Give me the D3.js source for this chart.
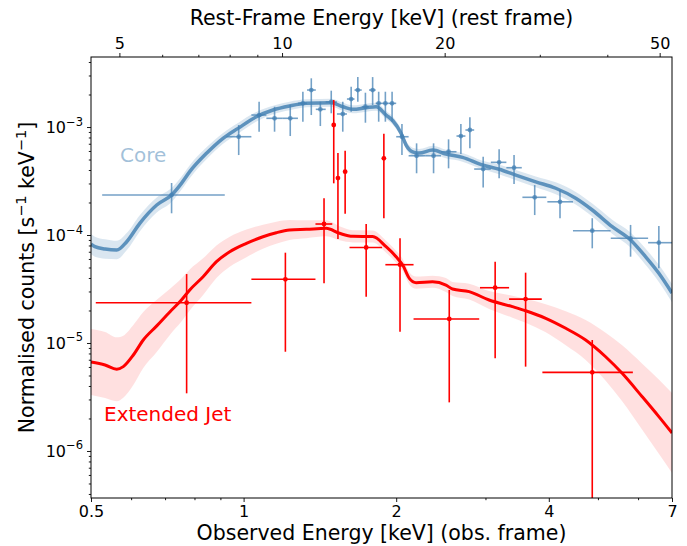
<!DOCTYPE html>
<html>
<head>
<meta charset="utf-8">
<script src="https://cdn.jsdelivr.net/npm/d3@7"></script>
<style>
    body { margin: 0; background: #fff; }
    svg { display: block; }
    text { font-family: "DejaVu Sans", sans-serif; fill: #000; }
    .frame { fill: none; stroke: #000; stroke-width: 1; }
    .axis path { display: none; }
    .axis line { stroke: #000; stroke-width: 0.9; }
    .axis text { font-size: 16px; }
</style>
</head>
<body>
<svg width="687" height="546"></svg>
<script>
// ---- core (point source) spectrum, obs-frame keV, counts s^-1 keV^-1
var coreE   = [0.721, 0.978, 1.073, 1.151, 1.236, 1.309, 1.360, 1.417, 1.489, 1.569, 1.630, 1.680, 1.739, 1.797, 1.847, 1.904, 1.963, 2.053, 2.194, 2.370, 2.537, 2.683, 2.795, 2.969, 3.192, 3.416, 3.752, 4.209, 4.873, 5.799, 6.594];
var coreElo = [0.526, 0.925, 1.036, 1.109, 1.195, 1.280, 1.334, 1.388, 1.452, 1.528, 1.599, 1.655, 1.710, 1.768, 1.822, 1.876, 1.933, 2.000, 2.116, 2.282, 2.451, 2.630, 2.739, 2.850, 3.074, 3.299, 3.548, 3.974, 4.464, 5.300, 6.280];
var coreEhi = [0.918, 1.036, 1.109, 1.195, 1.280, 1.334, 1.388, 1.452, 1.528, 1.599, 1.655, 1.710, 1.768, 1.822, 1.876, 1.933, 2.000, 2.116, 2.282, 2.451, 2.630, 2.739, 2.850, 3.074, 3.299, 3.538, 3.955, 4.464, 5.296, 6.280, 7.100];
var coreV   = [2.346e-4, 8.13e-4, 1.291e-3, 1.204e-3, 1.204e-3, 1.657e-3, 2.20e-3, 1.458e-3, 1.705e-3, 1.32e-3, 1.816e-3, 2.20e-3, 1.541e-3, 2.20e-3, 1.657e-3, 1.657e-3, 1.657e-3, 8.13e-4, 5.42e-4, 5.42e-4, 5.90e-4, 8.25e-4, 9.38e-4, 4.08e-4, 4.71e-4, 4.20e-4, 2.234e-4, 2.03e-4, 1.096e-4, 9.32e-5, 8.49e-5];
var coreVlo = [1.589e-4, 5.50e-4, 9.05e-4, 9.05e-4, 8.25e-4, 1.12e-3, 1.291e-3, 1.021e-3, 1.34e-3, 9.05e-4, 1.386e-3, 1.714e-3, 1.096e-3, 1.598e-3, 1.12e-3, 1.12e-3, 1.12e-3, 5.50e-4, 3.73e-4, 3.73e-4, 4.145e-4, 5.62e-4, 6.35e-4, 2.76e-4, 3.35e-4, 2.97e-4, 1.53e-4, 1.43e-4, 7.53e-5, 6.30e-5, 4.92e-5];
var coreVhi = [3.03e-4, 1.044e-3, 1.714e-3, 1.541e-3, 1.598e-3, 2.122e-3, 2.825e-3, 1.714e-3, 2.17e-3, 1.714e-3, 2.36e-3, 2.90e-3, 2.078e-3, 2.90e-3, 2.122e-3, 2.122e-3, 2.122e-3, 1.066e-3, 7.06e-4, 7.06e-4, 7.69e-4, 1.066e-3, 1.23e-3, 5.31e-4, 6.22e-4, 5.50e-4, 2.90e-4, 2.61e-4, 1.43e-4, 1.24e-4, 1.212e-4];

// ---- core folded model and its uncertainty (dex)
var coreModelE = [0.5, 0.509, 0.533, 0.562, 0.588, 0.624, 0.674, 0.721, 0.754, 0.783, 0.845, 0.911, 0.975, 1.060, 1.143, 1.232, 1.330, 1.489, 1.569, 1.642, 1.745, 1.826, 1.910, 1.968, 2.045, 2.092, 2.155, 2.221, 2.359, 2.507, 2.703, 2.959, 3.192, 3.443, 3.770, 4.128, 4.520, 4.873, 5.335, 5.799, 6.206, 6.594, 7.0];
var coreModelV = [8.25e-5, 7.79e-5, 7.42e-5, 7.26e-5, 8.67e-5, 1.283e-4, 1.896e-4, 2.346e-4, 3.01e-4, 3.86e-4, 5.71e-4, 7.86e-4, 9.72e-4, 1.245e-3, 1.437e-3, 1.565e-3, 1.657e-3, 1.679e-3, 1.541e-3, 1.458e-3, 1.509e-3, 1.541e-3, 1.291e-3, 1.149e-3, 8.74e-4, 6.81e-4, 5.90e-4, 5.74e-4, 6.12e-4, 5.62e-4, 5.24e-4, 4.45e-4, 4.06e-4, 3.59e-4, 3.11e-4, 2.71e-4, 2.19e-4, 1.704e-4, 1.194e-4, 8.99e-5, 6.30e-5, 4.42e-5, 2.90e-5];
var coreModelErr = [0.093, 0.093, 0.09, 0.085, 0.08, 0.075, 0.07, 0.065, 0.06, 0.06, 0.055, 0.05, 0.05, 0.045, 0.04, 0.04, 0.037, 0.037, 0.037, 0.037, 0.037, 0.037, 0.037, 0.037, 0.037, 0.037, 0.037, 0.037, 0.04, 0.04, 0.04, 0.04, 0.045, 0.048, 0.05, 0.055, 0.058, 0.06, 0.065, 0.07, 0.075, 0.08, 0.085];

// ---- extended jet spectrum
var jetE   = [0.772, 1.209, 1.441, 1.506, 1.535, 1.586, 1.745, 1.891, 2.035, 2.545, 3.135, 3.60, 4.873];
var jetElo = [0.511, 1.036, 1.386, 1.496, 1.525, 1.576, 1.618, 1.881, 1.904, 2.164, 2.926, 3.34, 3.885];
var jetEhi = [1.036, 1.386, 1.496, 1.516, 1.545, 1.596, 1.876, 1.901, 2.164, 2.916, 3.34, 3.874, 5.86];
var jetV   = [2.36e-5, 3.89e-5, 1.264e-4, 1.044e-3, 3.37e-4, 3.86e-4, 7.66e-5, 5.13e-4, 5.31e-5, 1.67e-5, 3.25e-5, 2.55e-5, 5.35e-6];
var jetVlo = [3.42e-6, 8.30e-6, 3.57e-5, 3.01e-4, 9.18e-5, 1.575e-4, 2.68e-5, 1.43e-4, 1.27e-5, 2.82e-6, 7.22e-6, 6.04e-6, 1e-8];
var jetVhi = [4.35e-5, 6.86e-5, 2.19e-4, 1.778e-3, 5.74e-4, 6.03e-4, 1.264e-4, 8.67e-4, 9.32e-5, 3.10e-5, 5.66e-5, 4.48e-5, 1.066e-5];

var jetModelE = [0.5, 0.533, 0.562, 0.579, 0.606, 0.634, 0.674, 0.716, 0.754, 0.783, 0.832, 0.884, 0.939, 1.013, 1.092, 1.160, 1.232, 1.330, 1.455, 1.546, 1.642, 1.797, 1.910, 1.999, 2.060, 2.123, 2.189, 2.359, 2.507, 2.583, 2.786, 3.050, 3.391, 3.60, 3.945, 4.320, 4.729, 5.178, 5.582, 6.114, 6.594, 7.0];
var jetModelV = [6.67e-6, 6.25e-6, 5.71e-6, 6.04e-6, 7.74e-6, 1.066e-5, 1.44e-5, 1.95e-5, 2.50e-5, 3.10e-5, 4.11e-5, 5.66e-5, 7.00e-5, 8.37e-5, 9.64e-5, 1.05e-4, 1.112e-4, 1.129e-4, 1.153e-4, 1.037e-4, 9.72e-5, 9.68e-5, 7.79e-5, 6.30e-5, 5.27e-5, 3.97e-5, 3.62e-5, 3.69e-5, 3.44e-5, 3.16e-5, 2.99e-5, 2.50e-5, 2.17e-5, 1.99e-5, 1.693e-5, 1.368e-5, 1.066e-5, 7.46e-6, 5.24e-6, 3.18e-6, 2.08e-6, 1.468e-6];
var jetModelErr = [0.306, 0.306, 0.296, 0.287, 0.278, 0.259, 0.241, 0.213, 0.2, 0.19, 0.17, 0.15, 0.139, 0.128, 0.111, 0.102, 0.093, 0.083, 0.074, 0.065, 0.056, 0.056, 0.056, 0.056, 0.056, 0.056, 0.056, 0.056, 0.065, 0.065, 0.074, 0.083, 0.102, 0.111, 0.13, 0.157, 0.185, 0.222, 0.259, 0.306, 0.343, 0.37];

// ---- axis ticks
var obsTicks = [0.5, 1, 2, 4, 7];
var obsMinor = [0.6, 0.7, 0.8, 0.9, 3, 5, 6];
var restTicks = [5, 10, 20, 50];
var restMinor = [6, 7, 8, 9, 30, 40];
var yTicks = [1e-6, 1e-5, 1e-4, 1e-3];

var svg = d3.select("svg"),
    pL = 91, pR = 672, pT = 57, pB = 498;

var x = d3.scaleLog().domain([0.5, 7]).range([pL, pR]);
var xTop = d3.scaleLog().domain([4.43, 52.7]).range([pL, pR]);
var y = d3.scaleLog().domain([3.67e-7, 4.45e-3]).range([pB, pT]);

var yMinor = [];
[-7, -6, -5, -4, -3].forEach(function (p) {
    for (var k = 2; k <= 9; k++) {
        var v = k * Math.pow(10, p);
        if (v > y.domain()[0] && v < y.domain()[1]) yMinor.push(v);
    }
});

svg.append("clipPath").attr("id", "plot")
    .append("rect").attr("x", pL).attr("y", pT)
    .attr("width", pR - pL).attr("height", pB - pT);

var g = svg.append("g").attr("clip-path", "url(#plot)");

function rows(E, V, err) {
    return E.map(function (e, i) { return { e: e, v: V[i], d: err[i] }; });
}

var band = d3.area()
    .x(function (d) { return x(d.e); })
    .y0(function (d) { return y(d.v / Math.pow(10, d.d)); })
    .y1(function (d) { return y(d.v * Math.pow(10, d.d)); })
    .curve(d3.curveMonotoneX);

var line = d3.line()
    .x(function (d) { return x(d.e); })
    .y(function (d) { return y(d.v); })
    .curve(d3.curveMonotoneX);

var coreModel = rows(coreModelE, coreModelV, coreModelErr);
var jetModel = rows(jetModelE, jetModelV, jetModelErr);

g.append("path").attr("d", band(coreModel)).attr("fill", "steelblue").attr("fill-opacity", 0.2);
g.append("path").attr("d", band(jetModel)).attr("fill", "red").attr("fill-opacity", 0.12);

g.append("path").attr("d", line(coreModel))
    .attr("fill", "none").attr("stroke", "steelblue").attr("stroke-opacity", 0.85)
    .attr("stroke-width", 3.5).attr("stroke-linejoin", "round");
g.append("path").attr("d", line(jetModel))
    .attr("fill", "none").attr("stroke", "red")
    .attr("stroke-width", 3).attr("stroke-linejoin", "round");

function errorbars(E, Elo, Ehi, V, Vlo, Vhi, color, opacity) {
    var pts = E.map(function (e, i) {
        return { e: e, elo: Elo[i], ehi: Ehi[i], v: V[i], vlo: Vlo[i], vhi: Vhi[i] };
    });
    var grp = g.append("g").attr("stroke", color).attr("fill", color)
        .attr("stroke-opacity", opacity).attr("fill-opacity", opacity)
        .attr("stroke-width", 1.6);
    var pt = grp.selectAll("g").data(pts).enter().append("g");
    pt.append("line")
        .attr("x1", function (d) { return x(d.elo); })
        .attr("x2", function (d) { return x(d.ehi); })
        .attr("y1", function (d) { return y(d.v); })
        .attr("y2", function (d) { return y(d.v); });
    pt.append("line")
        .attr("x1", function (d) { return x(d.e); })
        .attr("x2", function (d) { return x(d.e); })
        .attr("y1", function (d) { return y(d.vlo); })
        .attr("y2", function (d) { return y(d.vhi); });
    pt.append("circle")
        .attr("cx", function (d) { return x(d.e); })
        .attr("cy", function (d) { return y(d.v); })
        .attr("r", 2.4).attr("stroke", "none");
}

errorbars(coreE, coreElo, coreEhi, coreV, coreVlo, coreVhi, "steelblue", 0.75);
errorbars(jetE, jetElo, jetEhi, jetV, jetVlo, jetVhi, "red", 1);

// ---- axes
function fmt(d) { return String(d); }

svg.append("g").attr("class", "axis").attr("transform", "translate(0," + pB + ")")
    .call(d3.axisBottom(x).tickValues(obsTicks).tickFormat(fmt).tickSize(4).tickPadding(4));
svg.append("g").attr("class", "axis").attr("transform", "translate(0," + pB + ")")
    .call(d3.axisBottom(x).tickValues(obsMinor).tickFormat("").tickSize(2.2));

svg.append("g").attr("class", "axis").attr("transform", "translate(0," + pT + ")")
    .call(d3.axisTop(xTop).tickValues(restTicks).tickFormat(fmt).tickSize(4).tickPadding(4));
svg.append("g").attr("class", "axis").attr("transform", "translate(0," + pT + ")")
    .call(d3.axisTop(xTop).tickValues(restMinor).tickFormat("").tickSize(2.2));

svg.append("g").attr("class", "axis").attr("transform", "translate(" + pL + ",0)")
    .call(d3.axisLeft(y).tickValues(yTicks).tickFormat("").tickSize(4));
svg.append("g").attr("class", "axis").attr("transform", "translate(" + pL + ",0)")
    .call(d3.axisLeft(y).tickValues(yMinor).tickFormat("").tickSize(2.2));

yTicks.forEach(function (v) {
    var t = svg.append("text")
        .attr("x", pL - 8).attr("y", y(v) + 6)
        .attr("text-anchor", "end").style("font-size", "16px");
    t.append("tspan").text("10");
    t.append("tspan").attr("dy", -7.5).style("font-size", "11.5px")
        .text("\u2212" + Math.round(-Math.log10(v)));
});

svg.append("rect").attr("class", "frame")
    .attr("x", pL).attr("y", pT).attr("width", pR - pL).attr("height", pB - pT);

// ---- labels
svg.append("text").attr("x", (pL + pR) / 2).attr("y", 540)
    .attr("text-anchor", "middle").style("font-size", "20.5px")
    .text("Observed Energy [keV] (obs. frame)");

svg.append("text").attr("x", (pL + pR) / 2).attr("y", 25)
    .attr("text-anchor", "middle").style("font-size", "20.5px")
    .text("Rest-Frame Energy [keV] (rest frame)");

var yl = svg.append("text")
    .attr("transform", "translate(34," + ((pT + pB) / 2) + ") rotate(-90)")
    .attr("text-anchor", "middle").style("font-size", "20.5px");
yl.append("tspan").text("Normalised counts [s");
yl.append("tspan").attr("dy", -8).style("font-size", "14.5px").text("\u22121");
yl.append("tspan").attr("dy", 8).text(" keV");
yl.append("tspan").attr("dy", -8).style("font-size", "14.5px").text("\u22121");
yl.append("tspan").attr("dy", 8).text("]");

svg.append("text").attr("x", 120).attr("y", 162)
    .style("font-size", "20px").style("fill", "steelblue").style("fill-opacity", 0.5)
    .text("Core");
svg.append("text").attr("x", 104).attr("y", 421)
    .style("font-size", "20px").style("fill", "red")
    .text("Extended Jet");
</script>
</body>
</html>
